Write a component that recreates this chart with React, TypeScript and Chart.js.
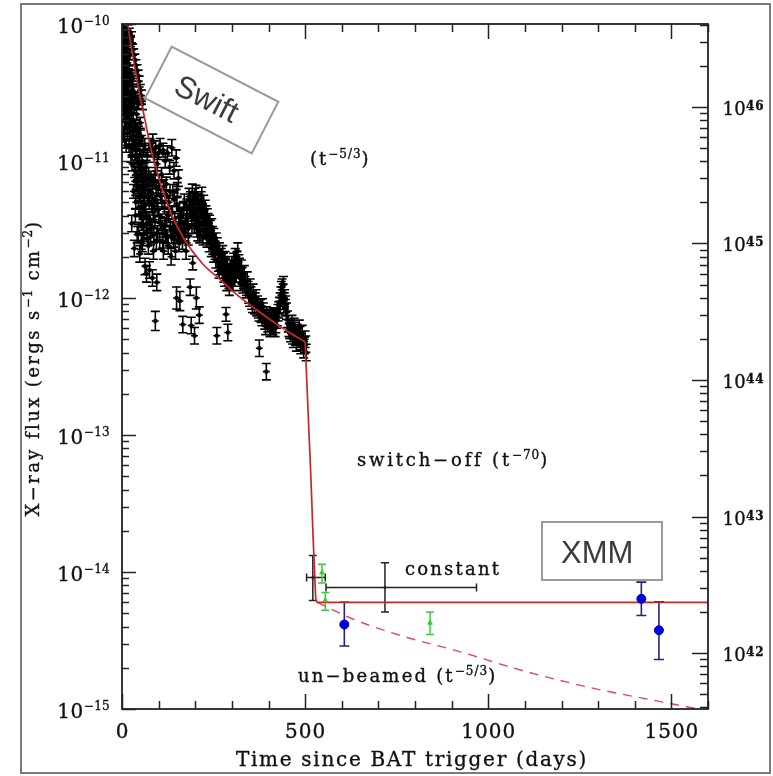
import React, { useEffect, useRef } from "react";
import { Chart, registerables } from "chart.js";
Chart.register(...registerables);

// ---------------- data ----------------
// Swift XRT light curve: time (days), flux (erg s^-1 cm^-2), half error (dex)
const swiftT = [
  0.5, 1, 1.5, 2, 2.5, 3, 3.5, 3.6, 4, 4.5, 5, 5.5, 6, 6.5, 7, 7.5, 8, 8.5, 9, 10, 10.5, 11, 11.5, 12, 12.5,
  13, 14, 14.5, 15, 16, 17, 18, 19, 19.5, 20, 21, 22, 23, 24, 24.5, 25, 26, 26.5, 27, 28, 29, 29.5, 30,
  31, 32, 33, 33.5, 34, 35, 36, 36.5, 37, 38, 39, 40, 41, 41.5, 42, 43, 44, 44.5, 45, 46, 47, 48, 48.5, 49, 50, 51, 52, 52.5, 53, 54, 55, 55.5, 56, 57, 58, 58.5, 59, 60,
  62, 63, 64, 65, 66, 67, 68, 69, 70, 72, 73, 74, 75, 76, 77, 78, 80, 81, 82, 83, 84, 85, 86, 88, 89, 90, 91, 92, 93, 94, 95, 96, 98, 100,
  101, 103, 104, 106, 108, 110, 112, 113, 116, 118, 119, 121, 122, 124, 126, 128, 130, 132, 134, 136, 137, 139, 141, 142, 144, 146, 148, 149, 150, 152, 154, 156, 158, 159,
  162, 165, 166, 168, 172, 175, 178, 181, 184, 186, 187, 189, 190, 192, 193, 194, 197, 198, 199, 201, 203, 204, 206, 209, 211, 212, 215, 218, 220, 223, 226, 229, 232, 235, 238, 241, 244, 247, 250, 253, 256, 259, 260, 263, 266, 268,
  271, 274, 277, 280, 283, 284, 286, 289, 290, 293, 296, 300, 303, 306, 309, 312, 316, 319, 322, 326, 330, 334, 338, 342, 346, 350, 354, 358, 362, 366,
  370, 374, 375, 378, 382, 386, 390, 394, 395, 398, 402, 406, 410, 414, 418, 422, 426, 430, 434, 437, 440, 443, 446, 449, 452, 456, 460, 464, 468, 472, 476, 480, 484, 488, 492, 496, 500, 503,
  1.2, 2.2, 3.2, 4.2, 5.2, 6.2, 7.2, 8.2, 9.2, 9.7, 11.2, 12.2, 13.5, 15.5,
  17, 20, 23, 26, 29, 32, 35, 38, 41, 44, 47, 50, 53, 56,
  31.5, 34.5, 37.5, 39.5, 42.5, 45.5, 47.5, 50.5, 53.5, 56.5, 59.5, 61, 63.5, 66.5, 69.5, 71, 74.5, 77.5, 79, 82.5, 85.5, 87, 90.5, 94.5, 97, 99,
  102, 105, 109, 111, 114, 117, 120, 123, 127, 131, 135, 138, 143, 147, 151, 155, 157, 160,
  163, 167, 170, 174, 177, 180, 183, 188, 191, 195, 196, 200, 202, 205, 207, 210, 213, 216, 219, 221, 224, 227, 230, 233, 236, 239, 242, 245, 248, 251, 254, 257, 262, 265,
  272, 275, 278, 281, 285, 288, 292, 295, 298, 302, 305, 308, 311, 314, 317, 321, 324, 328, 332, 336, 340, 344, 348, 352, 356, 360, 364, 368,
  372, 380, 384, 388, 392, 400, 404, 408, 412, 416, 420, 424, 428, 432, 435, 438, 441, 444, 447, 454, 458, 462, 466, 470, 474, 478, 482, 486, 490, 494, 498, 502,
  0.8, 1.8, 2.8, 3.8, 4.8, 5.8, 6.8, 7.8, 8.8, 9.8, 10.8, 11.8, 12.8, 13.8, 14.8, 15.8, 16.8, 17.8, 18.8, 20.5, 22.5, 25.5, 27.5, 30.5, 33, 36, 39, 42, 45, 48, 51, 54, 57, 60,
];
const swiftF = [
  2.0e-10, 1.4e-10, 9.0e-11, 1.2e-10, 3.0e-11, 7.5e-11, 1.05e-10, 1.6e-11, 6.0e-11, 2.6e-11, 8.5e-11, 5.0e-11, 6.8e-11, 2.2e-11, 4.4e-11, 1.4e-11, 7.0e-11, 2.8e-11, 3.8e-11, 5.6e-11, 1.9e-11, 3.3e-11, 1.3e-11, 4.6e-11, 2.4e-11,
  8.0e-11, 5.0e-11, 1.6e-11, 6.5e-11, 3.6e-11, 5.5e-11, 2.8e-11, 4.5e-11, 1.3e-11, 2.2e-11, 3.8e-11, 6.0e-11, 3.0e-11, 1.8e-11, 1.1e-11, 4.2e-11, 2.5e-11, 3.5e-12, 3.3e-11, 1.5e-11, 2.7e-11, 1.25e-11, 4.0e-11,
  2.0e-11, 3.2e-11, 1.4e-11, 2.3e-12, 2.4e-11, 1.0e-11, 1.8e-11, 4.0e-12, 2.9e-11, 8.0e-12, 1.5e-11, 2.2e-11, 1.2e-11, 2.9e-12, 6.5e-12, 1.7e-11, 9.5e-12, 3.0e-12, 2.6e-11, 1.3e-11, 5.5e-12, 1.1e-11, 2.1e-12, 7.5e-12, 1.9e-11, 9.0e-12, 4.5e-12, 2.6e-12, 1.4e-11, 6.0e-12, 1.0e-11, 2.5e-12, 3.8e-12, 7.0e-12, 1.2e-11, 3.4e-12, 5.0e-12, 8.5e-12,
  1.3e-11, 1.7e-12, 6.5e-12, 4.2e-12, 9.0e-12, 1.5e-12, 3.0e-12, 1.1e-11, 5.5e-12, 2.4e-12, 8.0e-12, 3.8e-12, 1.6e-12, 1.3e-11, 6.0e-12, 2.8e-12, 1.2e-11, 4.8e-12, 3.3e-12, 1.4e-12, 1.4e-11, 7.0e-12, 2.2e-12, 1.1e-11, 5.0e-12, 3.6e-12, 6.8e-13, 1.25e-11, 6.5e-12, 2.6e-12, 1.3e-12, 9.5e-12, 4.4e-12, 1.15e-11,
  4.0e-12, 2.6e-12, 1.3e-11, 5.5e-12, 8.0e-12, 3.2e-12, 1.2e-11, 2.2e-12, 4.6e-12, 1.0e-11, 2.9e-12, 6.8e-12, 3.8e-12, 1.15e-11, 2.4e-12, 5.0e-12, 9.0e-12, 3.3e-12, 2.0e-12, 1.25e-11, 4.2e-12, 6.0e-12, 2.7e-12, 8.5e-12, 3.6e-12, 2.2e-12, 1.05e-11, 1.0e-12, 4.8e-12, 3.0e-12, 7.5e-12, 2.5e-12, 9.5e-13, 3.9e-12,
  3.5e-12, 2.6e-12, 6.4e-13, 4.4e-12, 3.0e-12, 2.2e-12, 3.8e-12, 2.8e-12, 4.6e-12, 1.2e-12, 5.2e-12, 6.3e-13, 4.0e-12, 5.9e-12, 1.8e-12, 4.8e-12, 3.4e-12, 5.3e-13, 5.5e-12, 4.3e-12, 1.0e-12, 3.2e-12, 5.0e-12, 3.9e-12, 7.5e-13, 2.9e-12, 4.5e-12, 5.6e-12, 3.6e-12, 4.9e-12, 3.1e-12, 4.1e-12, 2.7e-12, 3.6e-12, 2.5e-12, 3.2e-12, 2.3e-12, 2.9e-12, 2.1e-12, 2.6e-12, 1.9e-12, 5.3e-13, 2.4e-12, 1.8e-12, 2.2e-12, 1.7e-12,
  2.0e-12, 1.6e-12, 1.85e-12, 1.4e-12, 1.7e-12, 7.6e-13, 1.3e-12, 5.6e-13, 1.55e-12, 1.2e-12, 1.45e-12, 1.75e-12, 1.3e-12, 1.6e-12, 2.0e-12, 1.5e-12, 2.2e-12, 1.8e-12, 1.4e-12, 1.65e-12, 1.25e-12, 1.5e-12, 1.15e-12, 1.35e-12, 1.05e-12, 1.2e-12, 9.5e-13, 1.1e-12, 8.8e-13, 1.0e-12,
  9.0e-13, 7.8e-13, 4.3e-13, 8.5e-13, 7.2e-13, 8.0e-13, 6.8e-13, 2.9e-13, 7.5e-13, 6.5e-13, 7.0e-13, 6.2e-13, 6.6e-13, 7.4e-13, 6.0e-13, 6.9e-13, 7.8e-13, 8.8e-13, 1.05e-12, 1.2e-12, 1.1e-12, 9.5e-13, 8.5e-13, 8.0e-13, 7.0e-13, 6.0e-13, 5.5e-13, 6.5e-13, 5.0e-13, 5.8e-13, 4.7e-13, 5.3e-13, 6.0e-13, 4.5e-13, 5.5e-13, 4.2e-13, 5.0e-13, 4.0e-13,
  6.0e-11, 4.5e-11, 3.8e-11, 9.0e-11, 3.4e-11, 4.0e-11, 6.2e-11, 4.8e-11, 2.2e-11, 7.8e-11, 5.0e-11, 6.5e-11, 3.0e-11, 4.0e-11,
  9.0e-11, 8.5e-11, 7.5e-11, 8.0e-11, 6.5e-11, 6.0e-11, 5.5e-11, 5.0e-11, 4.6e-11, 4.2e-11, 3.8e-11, 3.3e-11, 3.0e-11, 2.6e-11,
  6.0e-12, 8.5e-12, 5.0e-12, 1.1e-11, 7.5e-12, 4.6e-12, 9.0e-12, 5.5e-12, 3.5e-12, 6.5e-12, 2.9e-12, 4.8e-12, 7.5e-12, 3.5e-12, 2.7e-12, 6.8e-12, 5.0e-12, 3.6e-12, 7.5e-12, 5.8e-12, 4.2e-12, 2.9e-12, 8.0e-12, 5.2e-12, 3.0e-12, 6.2e-12,
  7.0e-12, 3.5e-12, 5.0e-12, 2.6e-12, 6.5e-12, 3.4e-12, 5.5e-12, 2.8e-12, 4.0e-12, 6.0e-12, 2.8e-12, 3.2e-12, 5.2e-12, 3.0e-12, 6.2e-12, 3.4e-12, 4.4e-12, 2.9e-12,
  4.0e-12, 3.2e-12, 5.0e-12, 3.6e-12, 4.6e-12, 3.3e-12, 5.5e-12, 4.4e-12, 3.4e-12, 5.2e-12, 4.2e-12, 3.7e-12, 5.8e-12, 4.0e-12, 3.0e-12, 4.8e-12, 3.5e-12, 5.2e-12, 4.2e-12, 2.8e-12, 3.8e-12, 4.5e-12, 3.4e-12, 3.9e-12, 2.9e-12, 3.5e-12, 2.7e-12, 3.3e-12, 2.4e-12, 2.8e-12, 2.2e-12, 2.6e-12, 2.1e-12, 1.6e-12,
  1.75e-12, 2.1e-12, 1.5e-12, 1.9e-12, 1.55e-12, 1.75e-12, 1.35e-12, 1.65e-12, 1.3e-12, 1.55e-12, 1.85e-12, 1.4e-12, 1.75e-12, 1.9e-12, 1.6e-12, 1.7e-12, 1.3e-12, 1.45e-12, 1.35e-12, 1.25e-12, 1.2e-12, 1.15e-12, 1.0e-12, 1.05e-12, 9.0e-13, 1.0e-12, 9.5e-13, 8.5e-13,
  8.2e-13, 7.6e-13, 8.6e-13, 7.2e-13, 6.2e-13, 6.8e-13, 6.0e-13, 7.2e-13, 6.2e-13, 7.0e-13, 6.4e-13, 7.2e-13, 8.2e-13, 9.5e-13, 1.15e-12, 1.0e-12, 1.25e-12, 1.0e-12, 9.0e-13, 6.5e-13, 5.8e-13, 6.0e-13, 5.3e-13, 6.2e-13, 5.2e-13, 5.6e-13, 5.0e-13, 5.4e-13, 4.8e-13, 5.0e-13, 4.5e-13, 4.6e-13,
  7.0e-11, 3.5e-11, 5.5e-11, 2.4e-11, 6.4e-11, 2.9e-11, 1.7e-11, 3.6e-11, 5.2e-11, 2.5e-11, 4.2e-11, 2.0e-11, 3.7e-11, 7.2e-11, 2.3e-11, 5.2e-11, 1.9e-11, 4.2e-11, 3.2e-11, 1.6e-11, 2.6e-11, 2.0e-11, 9.5e-12, 1.7e-11, 2.8e-11, 1.2e-11, 7.0e-12, 2.7e-11, 1.6e-11, 6.5e-12, 1.5e-11, 8.0e-12, 4.2e-12, 5.8e-12,
];
const swiftE = [
  0.04, 0.04, 0.04, 0.04, 0.05, 0.04, 0.04, 0.05, 0.04, 0.05, 0.04, 0.04, 0.04, 0.05, 0.04, 0.05, 0.04, 0.05, 0.04, 0.04, 0.05, 0.04, 0.05, 0.04, 0.05,
  0.04, 0.04, 0.05, 0.04, 0.04, 0.04, 0.04, 0.04, 0.05, 0.05, 0.04, 0.04, 0.04, 0.05, 0.05, 0.04, 0.05, 0.06, 0.04, 0.05, 0.05, 0.05, 0.04,
  0.04, 0.04, 0.04, 0.06, 0.04, 0.04, 0.04, 0.05, 0.04, 0.05, 0.04, 0.04, 0.04, 0.06, 0.05, 0.04, 0.05, 0.06, 0.04, 0.04, 0.05, 0.04, 0.06, 0.05, 0.04, 0.05, 0.05, 0.06, 0.04, 0.05, 0.05, 0.06, 0.05, 0.05, 0.05, 0.06, 0.05, 0.05,
  0.05, 0.06, 0.05, 0.05, 0.05, 0.06, 0.05, 0.05, 0.05, 0.06, 0.05, 0.05, 0.06, 0.05, 0.05, 0.06, 0.05, 0.05, 0.05, 0.06, 0.05, 0.05, 0.06, 0.05, 0.05, 0.05, 0.07, 0.05, 0.05, 0.06, 0.06, 0.05, 0.05, 0.05,
  0.05, 0.06, 0.05, 0.05, 0.05, 0.06, 0.05, 0.06, 0.05, 0.05, 0.06, 0.05, 0.05, 0.05, 0.06, 0.05, 0.05, 0.06, 0.06, 0.06, 0.05, 0.05, 0.06, 0.06, 0.06, 0.06, 0.06, 0.08, 0.05, 0.06, 0.06, 0.06, 0.07, 0.06,
  0.06, 0.06, 0.06, 0.06, 0.06, 0.06, 0.06, 0.06, 0.06, 0.06, 0.06, 0.06, 0.06, 0.06, 0.05, 0.06, 0.06, 0.06, 0.06, 0.06, 0.08, 0.06, 0.06, 0.06, 0.06, 0.06, 0.06, 0.06, 0.06, 0.06, 0.06, 0.06, 0.06, 0.06, 0.06, 0.06, 0.06, 0.06, 0.06, 0.06, 0.06, 0.06, 0.06, 0.06, 0.06, 0.06,
  0.06, 0.06, 0.06, 0.06, 0.06, 0.05, 0.06, 0.06, 0.06, 0.06, 0.06, 0.06, 0.06, 0.06, 0.06, 0.06, 0.06, 0.06, 0.06, 0.06, 0.06, 0.06, 0.06, 0.06, 0.06, 0.06, 0.06, 0.06, 0.06, 0.06,
  0.06, 0.06, 0.06, 0.06, 0.06, 0.06, 0.06, 0.06, 0.06, 0.06, 0.06, 0.06, 0.06, 0.06, 0.06, 0.06, 0.06, 0.06, 0.06, 0.06, 0.06, 0.06, 0.06, 0.06, 0.06, 0.06, 0.06, 0.06, 0.06, 0.06, 0.06, 0.06, 0.06, 0.06, 0.06, 0.06, 0.06, 0.06,
  0.04, 0.04, 0.04, 0.04, 0.04, 0.04, 0.04, 0.04, 0.04, 0.04, 0.04, 0.04, 0.04, 0.04,
  0.04, 0.04, 0.04, 0.04, 0.04, 0.04, 0.04, 0.04, 0.04, 0.04, 0.04, 0.04, 0.04, 0.04,
  0.05, 0.05, 0.05, 0.05, 0.05, 0.05, 0.05, 0.05, 0.05, 0.05, 0.05, 0.05, 0.05, 0.05, 0.05, 0.05, 0.05, 0.05, 0.05, 0.05, 0.05, 0.05, 0.05, 0.05, 0.05, 0.05,
  0.05, 0.05, 0.05, 0.05, 0.05, 0.05, 0.05, 0.05, 0.05, 0.05, 0.05, 0.05, 0.05, 0.05, 0.05, 0.05, 0.05, 0.05,
  0.06, 0.06, 0.06, 0.06, 0.06, 0.06, 0.06, 0.06, 0.06, 0.06, 0.06, 0.06, 0.06, 0.06, 0.06, 0.06, 0.06, 0.06, 0.06, 0.06, 0.06, 0.06, 0.06, 0.06, 0.06, 0.06, 0.06, 0.06, 0.06, 0.06, 0.06, 0.06, 0.06, 0.06,
  0.06, 0.06, 0.06, 0.06, 0.06, 0.06, 0.06, 0.06, 0.06, 0.06, 0.06, 0.06, 0.06, 0.06, 0.06, 0.06, 0.06, 0.06, 0.06, 0.06, 0.06, 0.06, 0.06, 0.06, 0.06, 0.06, 0.06, 0.06,
  0.06, 0.06, 0.06, 0.06, 0.06, 0.06, 0.06, 0.06, 0.06, 0.06, 0.06, 0.06, 0.06, 0.06, 0.06, 0.06, 0.06, 0.06, 0.06, 0.06, 0.06, 0.06, 0.06, 0.06, 0.06, 0.06, 0.06, 0.06, 0.06, 0.06, 0.06, 0.06,
  0.05, 0.05, 0.05, 0.05, 0.05, 0.05, 0.05, 0.05, 0.05, 0.05, 0.05, 0.05, 0.05, 0.05, 0.05, 0.05, 0.05, 0.05, 0.05, 0.05, 0.05, 0.05, 0.05, 0.05, 0.05, 0.05, 0.05, 0.05, 0.05, 0.05, 0.05, 0.05, 0.05, 0.05,
];

// t^-5/3 model
const modelT = [5, 10, 16, 30, 46, 61, 84, 130, 166, 220, 270, 311, 367, 420, 457, 500];
const modelF = [2.5e-10, 1.4e-10, 1.0e-10, 5.75e-11, 3.3e-11, 2.1e-11, 1.07e-11, 4.4e-12, 2.8e-12, 1.78e-12, 1.35e-12, 1.07e-12, 8.2e-13, 6.5e-13, 5.6e-13, 4.8e-13];
// switch-off (t^-70) then constant
const switchT = [500, 516, 522, 529, 533, 1600];
const switchF = [4.8e-13, 4.7e-14, 1.73e-14, 6.3e-15, 6.0e-15, 6.0e-15];
// un-beamed t^-5/3 continuation (dashed)
const unbeamedT = [533, 639, 775, 912, 1093, 1275, 1457, 1600];
const unbeamedF = [6.0e-15, 4.44e-15, 3.35e-15, 2.67e-15, 1.91e-15, 1.44e-15, 1.15e-15, 0.97e-15];

// late black points (with time bins)
const lateT = [521, 718];
const lateTLo = [504, 557];
const lateTHi = [555, 968];
const lateF = [9.1e-15, 7.7e-15];
const lateFLo = [6.2e-15, 5.1e-15];
const lateFHi = [1.32e-14, 1.17e-14];

// green points
const greenT = [546, 555, 841];
const greenF = [9.9e-15, 6.2e-15, 4.25e-15];
const greenLo = [8.3e-15, 5.25e-15, 3.5e-15];
const greenHi = [1.14e-14, 7.1e-15, 5.1e-15];

// XMM points (blue)
const xmmT = [607, 1418, 1466];
const xmmF = [4.14e-15, 6.37e-15, 3.76e-15];
const xmmLo = [2.88e-15, 4.81e-15, 2.3e-15];
const xmmHi = [6.02e-15, 8.43e-15, 6.05e-15];

// axes
const timeMin = 0;
const timeMax = 1600;
const timeLabels = [0, 500, 1000, 1500];
const fluxMin = 1e-15;
const fluxMax = 1e-10;
const fluxDecades = [-15, -14, -13, -12, -11, -10];
const lumMin = 3.9e41;
const lumMax = 4.04e46;
const lumDecades = [42, 43, 44, 45, 46];

const SERIF = "'DejaVu Serif', serif";
const SANS = "'Liberation Sans', Arial, sans-serif";

type Seg = { t: string; size: number; raise?: number; bold?: boolean; ls?: number };

function setFont(ctx: CanvasRenderingContext2D, s: Seg) {
  ctx.font = `${s.bold ? "bold " : ""}${s.size}px ${SERIF}`;
  (ctx as any).letterSpacing = `${s.ls || 0}px`;
}

function drawRich(ctx: CanvasRenderingContext2D, segs: Seg[], x: number, y: number, align: string) {
  const widths = segs.map((s) => {
    setFont(ctx, s);
    return ctx.measureText(s.t).width;
  });
  const total = widths.reduce((a, b) => a + b, 0);
  let cx = align === "left" ? x : align === "right" ? x - total : x - total / 2;
  ctx.textAlign = "left";
  ctx.textBaseline = "alphabetic";
  ctx.lineWidth = 0.35;
  ctx.strokeStyle = ctx.fillStyle;
  segs.forEach((s, i) => {
    setFont(ctx, s);
    ctx.fillText(s.t, cx, y - (s.raise || 0));
    ctx.strokeText(s.t, cx, y - (s.raise || 0));
    cx += widths[i];
  });
  (ctx as any).letterSpacing = "0px";
}

const pts = (xs: number[], ys: number[]) => xs.map((x, i) => ({ x, y: ys[i] }));

const decorPlugin = {
  id: "decor",
  beforeDraw(chart: any) {
    const ctx = chart.ctx;
    ctx.save();
    ctx.fillStyle = "#fff";
    ctx.fillRect(0, 0, chart.width, chart.height);
    ctx.restore();
  },
  beforeDatasetsDraw(chart: any) {
    const { ctx, chartArea: a, scales } = chart;
    const xs = scales.x;
    const ys = scales.y;
    ctx.save();
    ctx.beginPath();
    ctx.rect(a.left, a.top, a.right - a.left, a.bottom - a.top);
    ctx.clip();
    // Swift error bars
    ctx.strokeStyle = "#000";
    ctx.lineWidth = 1.6;
    ctx.beginPath();
    for (let i = 0; i < swiftT.length; i++) {
      const px = xs.getPixelForValue(swiftT[i]);
      const lo = ys.getPixelForValue(swiftF[i] / Math.pow(10, swiftE[i]));
      const hi = ys.getPixelForValue(swiftF[i] * Math.pow(10, swiftE[i]));
      const py = ys.getPixelForValue(swiftF[i]);
      ctx.moveTo(px, lo);
      ctx.lineTo(px, hi);
      ctx.moveTo(px - 4.5, lo);
      ctx.lineTo(px + 4.5, lo);
      ctx.moveTo(px - 4.5, hi);
      ctx.lineTo(px + 4.5, hi);
      ctx.moveTo(px - 3.5, py);
      ctx.lineTo(px + 3.5, py);
    }
    ctx.stroke();

    const bars = (T: number[], Lo: number[], Hi: number[], color: string, cap: number, lw: number) => {
      ctx.strokeStyle = color;
      ctx.lineWidth = lw;
      ctx.beginPath();
      for (let i = 0; i < T.length; i++) {
        const px = xs.getPixelForValue(T[i]);
        const lo = ys.getPixelForValue(Lo[i]);
        const hi = ys.getPixelForValue(Hi[i]);
        ctx.moveTo(px, lo);
        ctx.lineTo(px, hi);
        ctx.moveTo(px - cap, lo);
        ctx.lineTo(px + cap, lo);
        ctx.moveTo(px - cap, hi);
        ctx.lineTo(px + cap, hi);
      }
      ctx.stroke();
    };
    // late black (with horizontal bars)
    bars(lateT, lateFLo, lateFHi, "#222", 4, 1.5);
    ctx.strokeStyle = "#222";
    ctx.lineWidth = 1.5;
    ctx.beginPath();
    for (let i = 0; i < lateT.length; i++) {
      const py = ys.getPixelForValue(lateF[i]);
      const l = xs.getPixelForValue(lateTLo[i]);
      const r = xs.getPixelForValue(lateTHi[i]);
      ctx.moveTo(l, py);
      ctx.lineTo(r, py);
      ctx.moveTo(l, py - 4);
      ctx.lineTo(l, py + 4);
      ctx.moveTo(r, py - 4);
      ctx.lineTo(r, py + 4);
    }
    ctx.stroke();
    bars(greenT, greenLo, greenHi, "#3ccc3c", 4, 1.5);
    bars(xmmT, xmmLo, xmmHi, "#23237e", 5, 1.6);
    ctx.restore();
  },
  afterDraw(chart: any) {
    const { ctx, chartArea: a, scales } = chart;
    const xs = scales.x;
    const ys = scales.y;
    const ly = scales.y2;
    ctx.save();
    ctx.strokeStyle = "#222";
    ctx.lineWidth = 1.5;
    // ticks on x (top & bottom)
    ctx.beginPath();
    for (let t = timeMin; t <= timeMax; t += 100) {
      const px = Math.round(xs.getPixelForValue(t)) + 0.5;
      const len = t % 500 === 0 ? 15 : 8;
      ctx.moveTo(px, a.bottom);
      ctx.lineTo(px, a.bottom - len);
      ctx.moveTo(px, a.top);
      ctx.lineTo(px, a.top + len);
    }
    // left flux ticks
    for (let d = -16; d <= -10; d++) {
      for (let m = 1; m <= 9; m++) {
        const v = m * Math.pow(10, d);
        if (v < fluxMin * 0.999 || v > fluxMax * 1.001) continue;
        const py = Math.round(ys.getPixelForValue(v)) + 0.5;
        const len = m === 1 ? 14 : 7;
        ctx.moveTo(a.left, py);
        ctx.lineTo(a.left + len, py);
      }
    }
    // right luminosity ticks
    for (let d = 41; d <= 46; d++) {
      for (let m = 1; m <= 9; m++) {
        const v = m * Math.pow(10, d);
        if (v < lumMin || v > lumMax) continue;
        const py = Math.round(ly.getPixelForValue(v)) + 0.5;
        const len = m === 1 ? 16 : 8;
        ctx.moveTo(a.right, py);
        ctx.lineTo(a.right - len, py);
      }
    }
    ctx.stroke();
    // frame
    ctx.lineWidth = 1.8;
    ctx.strokeRect(a.left, a.top, a.right - a.left, a.bottom - a.top);

    // labels
    ctx.fillStyle = "#111";
    for (const t of timeLabels) {
      drawRich(ctx, [{ t: String(t), size: 20, ls: 1 }], xs.getPixelForValue(t) + 0.5, 738, "center");
    }
    for (const d of fluxDecades) {
      const py = ys.getPixelForValue(Math.pow(10, d));
      drawRich(ctx, [{ t: "10", size: 20, ls: 0.5 }, { t: "\u2212" + Math.abs(d), size: 12, raise: 8, ls: 0.3 }], 110, py + 9, "right");
    }
    for (const d of lumDecades) {
      const py = ly.getPixelForValue(Math.pow(10, d));
      drawRich(ctx, [{ t: "10", size: 18, ls: 0.3 }, { t: String(d), size: 12, bold: true, raise: 5, ls: 0.8 }], 722.5, py + 8, "left");
    }
    // axis titles
    drawRich(ctx, [{ t: "Time since BAT trigger (days)", size: 20, ls: 1.7 }], 412, 766, "center");
    ctx.save();
    ctx.translate(39, 368);
    ctx.rotate(-Math.PI / 2);
    drawRich(
      ctx,
      [
        { t: "X\u2212ray flux (ergs s", size: 18, ls: 2.4 },
        { t: "\u22121", size: 12, raise: 7, ls: 1 },
        { t: " cm", size: 18, ls: 2.4 },
        { t: "\u22122", size: 12, raise: 7, ls: 1 },
        { t: ")", size: 18, ls: 2.4 },
      ],
      0,
      0,
      "center"
    );
    ctx.restore();

    // annotations
    drawRich(ctx, [{ t: "(t", size: 18, ls: 2 }, { t: "\u22125/3", size: 12, raise: 7, ls: 1 }, { t: ")", size: 18, ls: 2 }], 310, 165, "left");
    drawRich(ctx, [{ t: "switch\u2212off (t", size: 18, ls: 2.8 }, { t: "\u221270", size: 12, raise: 7, ls: 1 }, { t: ")", size: 18, ls: 2.6 }], 357, 466, "left");
    drawRich(ctx, [{ t: "constant", size: 18, ls: 2.2 }], 405, 575, "left");
    drawRich(ctx, [{ t: "un\u2212beamed (t", size: 18, ls: 2.2 }, { t: "\u22125/3", size: 12, raise: 7, ls: 1 }, { t: ")", size: 18, ls: 2.2 }], 298, 682, "left");

    // Swift box
    ctx.save();
    ctx.translate(211.7, 100);
    ctx.rotate((27.3 * Math.PI) / 180);
    ctx.fillStyle = "#fff";
    ctx.fillRect(-60, -29, 120, 58);
    ctx.strokeStyle = "#9a9a9a";
    ctx.lineWidth = 2;
    ctx.strokeRect(-60, -29, 120, 58);
    ctx.fillStyle = "#3c3c3c";
    ctx.font = `31px ${SANS}`;
    ctx.textAlign = "center";
    ctx.textBaseline = "middle";
    ctx.fillText("Swift", -5, 3);
    ctx.restore();

    // XMM box
    ctx.fillStyle = "#fff";
    ctx.fillRect(542, 522, 120, 58);
    ctx.strokeStyle = "#9a9a9a";
    ctx.lineWidth = 2;
    ctx.strokeRect(542, 522, 120, 58);
    ctx.fillStyle = "#3c3c3c";
    ctx.font = `31px ${SANS}`;
    ctx.textAlign = "left";
    ctx.textBaseline = "alphabetic";
    ctx.fillText("XMM", 561, 563);

    // outer frame
    ctx.strokeStyle = "#7a7a7a";
    ctx.lineWidth = 2;
    ctx.strokeRect(21, 4, 749, 769);
    ctx.restore();
  },
};

export default function App() {
  const ref = useRef<HTMLCanvasElement>(null);
  useEffect(() => {
    const canvas = ref.current;
    if (!canvas) return;
    const chart = new Chart(canvas, {
      type: "scatter",
      data: {
        datasets: [
          { label: "Swift", data: pts(swiftT, swiftF), pointStyle: "rect", pointRadius: 2.6, backgroundColor: "#000", borderColor: "#000", borderWidth: 0, order: 10, clip: 0 } as any,
          { label: "model", data: pts(modelT, modelF), showLine: true, fill: false, borderColor: "#c8262b", borderWidth: 1.7, pointRadius: 0, cubicInterpolationMode: "monotone", order: 2, clip: 0 } as any,
          { label: "switch-off", data: pts(switchT, switchF), showLine: true, fill: false, borderColor: "#c8262b", borderWidth: 1.7, pointRadius: 0, tension: 0, order: 2, clip: 0 } as any,
          { label: "un-beamed", data: pts(unbeamedT, unbeamedF), showLine: true, fill: false, borderColor: "#dc4a55", borderWidth: 1.4, borderDash: [9, 7], pointRadius: 0, cubicInterpolationMode: "monotone", order: 3, clip: 0 } as any,
          { label: "late", data: pts(lateT, lateF), pointRadius: 1.2, backgroundColor: "#222", borderColor: "#222", order: 1, clip: 0 } as any,
          { label: "green", data: pts(greenT, greenF), pointStyle: "triangle", pointRadius: 2.6, backgroundColor: "#33cc33", borderColor: "#33cc33", order: 0, clip: 0 } as any,
          { label: "XMM", data: pts(xmmT, xmmF), pointStyle: "circle", pointRadius: 4.5, backgroundColor: "#0000d8", borderColor: "#0000d8", order: 0, clip: 0 } as any,
        ],
      },
      options: {
        responsive: false,
        maintainAspectRatio: false,
        devicePixelRatio: 1,
        animation: false,
        events: [],
        layout: { padding: { left: 122, right: 65, top: 24, bottom: 67 } },
        plugins: { legend: { display: false }, tooltip: { enabled: false } },
        scales: {
          x: { type: "linear", min: timeMin, max: timeMax, display: false },
          y: { type: "logarithmic", min: fluxMin, max: fluxMax, display: false },
          y2: { type: "logarithmic", position: "right", min: lumMin, max: lumMax, display: false },
        },
      } as any,
      plugins: [decorPlugin as any],
    });
    return () => chart.destroy();
  }, []);
  return (
    <div style={{ position: "absolute", left: 0, top: 0, width: 773, height: 776, background: "#fff" }}>
      <canvas ref={ref} width={773} height={776} style={{ display: "block", width: 773, height: 776 }} />
    </div>
  );
}
